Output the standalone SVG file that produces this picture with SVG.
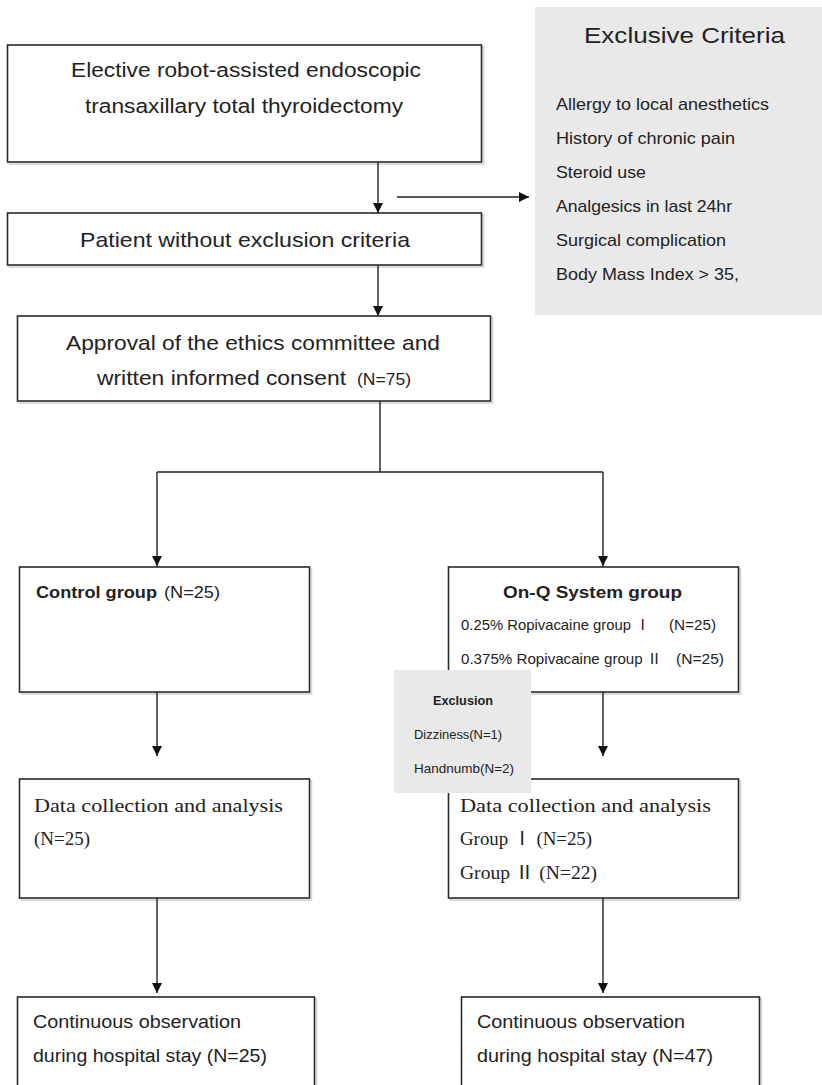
<svg xmlns="http://www.w3.org/2000/svg" width="822" height="1085" viewBox="0 0 822 1085">
<defs>
<marker id="ah" markerWidth="10" markerHeight="12" refX="10" refY="6" orient="auto" markerUnits="userSpaceOnUse">
<path d="M0,1 L10,6 L0,11 Z" fill="#111"/>
</marker>
<style>
.box{fill:#fff;stroke:#2a2a2a;stroke-width:1.6}
.sh{fill:none;stroke:#d4d4d4;stroke-width:1.6}
.gray{fill:#e9e9e9;stroke:none}
.ln{fill:none;stroke:#222;stroke-width:1.4}
.sans{font-family:"Liberation Sans",Arial,"Noto Sans CJK KR",sans-serif;fill:#222}
.serif{font-family:"Liberation Serif","Times New Roman","Noto Sans CJK KR",serif;fill:#222}
.b{font-weight:bold}
</style>
</defs>
<rect width="822" height="1085" fill="#fff"/>

<g id="n-elective">
<rect class="sh" x="9.5" y="47" width="474" height="117"/>
<rect class="box" x="7.5" y="45" width="474" height="117"/>
<text class="sans" x="71" y="77" font-size="20" textLength="350" lengthAdjust="spacingAndGlyphs">Elective robot-assisted endoscopic</text>
<text class="sans" x="85" y="113" font-size="20" textLength="318" lengthAdjust="spacingAndGlyphs">transaxillary total thyroidectomy</text>
</g>

<g id="n-criteria">
<rect class="gray" x="535" y="7" width="290" height="308"/>
<text class="sans" x="584" y="43" font-size="22" textLength="201" lengthAdjust="spacingAndGlyphs">Exclusive Criteria</text>
<text class="sans" x="556" y="110" font-size="17" textLength="213" lengthAdjust="spacingAndGlyphs">Allergy to local anesthetics</text>
<text class="sans" x="556" y="144" font-size="17" textLength="179" lengthAdjust="spacingAndGlyphs">History of chronic pain</text>
<text class="sans" x="556" y="178" font-size="17" textLength="90" lengthAdjust="spacingAndGlyphs">Steroid use</text>
<text class="sans" x="556" y="212" font-size="17" textLength="176" lengthAdjust="spacingAndGlyphs">Analgesics in last 24hr</text>
<text class="sans" x="556" y="246" font-size="17" textLength="170" lengthAdjust="spacingAndGlyphs">Surgical complication</text>
<text class="sans" x="556" y="280" font-size="17" textLength="183" lengthAdjust="spacingAndGlyphs">Body Mass Index &gt; 35,</text>
</g>

<g id="n-patient">
<rect class="sh" x="9.5" y="215" width="474" height="52"/>
<rect class="box" x="7.5" y="213" width="474" height="52"/>
<text class="sans" x="80" y="247" font-size="21" textLength="330" lengthAdjust="spacingAndGlyphs">Patient without exclusion criteria</text>
</g>

<g id="n-approval">
<rect class="sh" x="19.5" y="318" width="473" height="85"/>
<rect class="box" x="17.5" y="316" width="473" height="85"/>
<text class="sans" x="66" y="350" font-size="21" textLength="374" lengthAdjust="spacingAndGlyphs">Approval of the ethics committee and</text>
<text class="sans" x="97" y="385" font-size="21" textLength="249" lengthAdjust="spacingAndGlyphs">written informed consent</text>
<text class="sans" x="357" y="385" font-size="16" textLength="54" lengthAdjust="spacingAndGlyphs">(N=75)</text>
</g>

<g id="n-control">
<rect class="sh" x="21.5" y="569" width="290" height="125"/>
<rect class="box" x="19.5" y="567" width="290" height="125"/>
<text class="sans b" x="36" y="598" font-size="17" textLength="121" lengthAdjust="spacingAndGlyphs">Control group</text>
<text class="sans" x="164" y="598" font-size="17" textLength="56" lengthAdjust="spacingAndGlyphs">(N=25)</text>
</g>

<g id="n-onq">
<rect class="sh" x="450.5" y="569" width="290" height="125"/>
<rect class="box" x="448.5" y="567" width="290" height="125"/>
<text class="sans b" x="503" y="598" font-size="17" textLength="179" lengthAdjust="spacingAndGlyphs">On-Q System group</text>
<text class="sans" x="461" y="630" font-size="15" textLength="189" lengthAdjust="spacingAndGlyphs">0.25% Ropivacaine group Ⅰ</text>
<text class="sans" x="669" y="630" font-size="15" textLength="47" lengthAdjust="spacingAndGlyphs">(N=25)</text>
<text class="sans" x="461" y="664" font-size="15" textLength="201" lengthAdjust="spacingAndGlyphs">0.375% Ropivacaine group Ⅱ</text>
<text class="sans" x="676" y="664" font-size="15" textLength="48" lengthAdjust="spacingAndGlyphs">(N=25)</text>
</g>

<g id="n-data-control">
<rect class="sh" x="21.5" y="781" width="290" height="119"/>
<rect class="box" x="19.5" y="779" width="290" height="119"/>
<text class="serif" x="34" y="812" font-size="18" textLength="249" lengthAdjust="spacingAndGlyphs">Data collection and analysis</text>
<text class="serif" x="34" y="845" font-size="18" textLength="56" lengthAdjust="spacingAndGlyphs">(N=25)</text>
</g>

<g id="n-data-onq">
<rect class="sh" x="450.5" y="781" width="290" height="119"/>
<rect class="box" x="448.5" y="779" width="290" height="119"/>
<text class="serif" x="460" y="812" font-size="18" textLength="251" lengthAdjust="spacingAndGlyphs">Data collection and analysis</text>
<text class="serif" x="460" y="845" font-size="18" textLength="132" lengthAdjust="spacingAndGlyphs">Group Ⅰ (N=25)</text>
<text class="serif" x="460" y="879" font-size="18" textLength="137" lengthAdjust="spacingAndGlyphs">Group Ⅱ (N=22)</text>
</g>

<g id="n-exclusion">
<rect class="gray" x="394" y="670" width="137" height="123"/>
<text class="sans b" x="433" y="705" font-size="13" textLength="60" lengthAdjust="spacingAndGlyphs">Exclusion</text>
<text class="sans" x="414" y="739" font-size="13" textLength="88" lengthAdjust="spacingAndGlyphs">Dizziness(N=1)</text>
<text class="sans" x="414" y="773" font-size="13" textLength="100" lengthAdjust="spacingAndGlyphs">Handnumb(N=2)</text>
</g>

<g id="n-obs-control">
<rect class="sh" x="19.5" y="999" width="297" height="110"/>
<rect class="box" x="17.5" y="997" width="297" height="110"/>
<text class="sans" x="33" y="1028" font-size="18" textLength="208" lengthAdjust="spacingAndGlyphs">Continuous observation</text>
<text class="sans" x="33" y="1062" font-size="18" textLength="234" lengthAdjust="spacingAndGlyphs">during hospital stay (N=25)</text>
</g>

<g id="n-obs-onq">
<rect class="sh" x="463.5" y="999" width="298" height="110"/>
<rect class="box" x="461.5" y="997" width="298" height="110"/>
<text class="sans" x="477" y="1028" font-size="18" textLength="208" lengthAdjust="spacingAndGlyphs">Continuous observation</text>
<text class="sans" x="477" y="1062" font-size="18" textLength="236" lengthAdjust="spacingAndGlyphs">during hospital stay (N=47)</text>
</g>

<g id="connectors">
<line class="ln" x1="378" y1="162" x2="378" y2="213" marker-end="url(#ah)"/>
<line class="ln" x1="397" y1="197" x2="529" y2="197" marker-end="url(#ah)"/>
<line class="ln" x1="378" y1="265" x2="378" y2="316" marker-end="url(#ah)"/>
<polyline class="ln" points="380,401 380,472"/>
<line class="ln" x1="157" y1="472" x2="603" y2="472"/>
<line class="ln" x1="157" y1="472" x2="157" y2="566" marker-end="url(#ah)"/>
<line class="ln" x1="603" y1="472" x2="603" y2="566" marker-end="url(#ah)"/>
<line class="ln" x1="157" y1="692" x2="157" y2="756" marker-end="url(#ah)"/>
<line class="ln" x1="603" y1="692" x2="603" y2="756" marker-end="url(#ah)"/>
<line class="ln" x1="157" y1="898" x2="157" y2="993" marker-end="url(#ah)"/>
<line class="ln" x1="603" y1="898" x2="603" y2="993" marker-end="url(#ah)"/>
</g>
</svg>
